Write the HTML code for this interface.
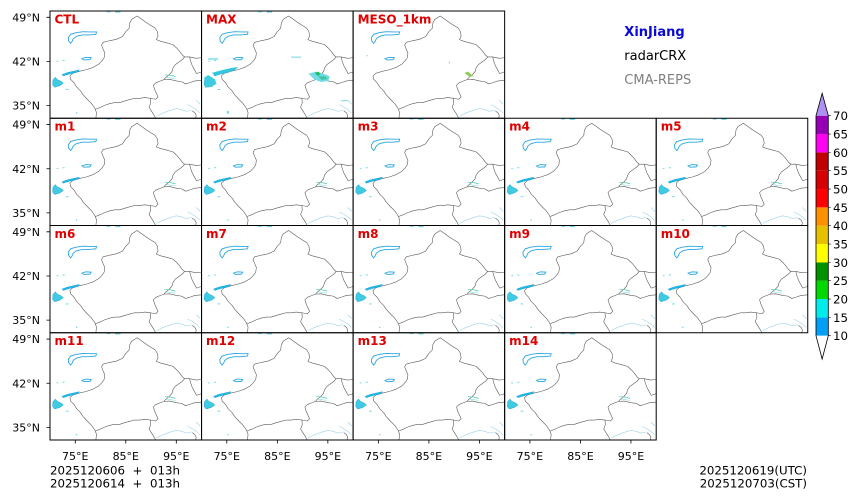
<!DOCTYPE html>
<html><head><meta charset="utf-8"><style>
html,body{margin:0;padding:0;background:#fff;}
svg{display:block;font-family:"DejaVu Sans","Liberation Sans",sans-serif;}
</style></head><body>
<svg width="860" height="501" viewBox="0 0 860 501" xmlns="http://www.w3.org/2000/svg">
<defs>
<symbol id="base" viewBox="0 0 456 322" preserveAspectRatio="none">
 <g fill="none" stroke="#5a5a5a" stroke-width="0.6" stroke-linejoin="round">
  <path vector-effect="non-scaling-stroke" d="M138,322 L140,305 L135,292 L125,278 L112,265 L100,252 L92,240 L80,228 L72,215 L62,205 L60,195 L68,187 L88,181 L110,176 L130,169 L146,160 L156,150 L163,140 L165,126 L160,115 L155,102 L160,94 L180,89 L200,85 L218,77 L228,62 L238,52 L240,36 L246,25 L262,15 L275,24 L290,35 L303,43 L316,51 L323,62 L325,75 L320,86 L333,91 L352,96 L370,101 L381,111 L390,121 L398,132 L405,138 L420,138 L440,142 L456,140"/>
  <path vector-effect="non-scaling-stroke" d="M405,138 L398,146 L388,153 L377,161 L370,171 L367,182 L358,192 L348,200 L343,206 L330,211 L318,216 L311,223 L315,236 L320,247 L325,258 L318,265 L302,262 L285,260 L270,262 L254,262 L240,266 L225,270 L210,275 L195,275 L180,278 L165,283 L150,290 L137,295"/>
  <path vector-effect="non-scaling-stroke" d="M420,138 L423,150 L428,164 L435,177 L441,188 L449,185 L456,183"/>
  <path vector-effect="non-scaling-stroke" d="M343,206 L360,205 L380,210 L396,212 L408,219 L421,215 L436,210 L456,208"/>
  <path vector-effect="non-scaling-stroke" d="M302,262 L303,276 L298,289 L305,300 L312,311 L318,322"/>
  <path vector-effect="non-scaling-stroke" d="M428,300 L436,306 L440,314 L438,322"/>
 </g>
 <g fill="none" stroke="#9fd3ea" stroke-width="0.6">
  <path vector-effect="non-scaling-stroke" d="M320,316 L340,306 L360,299 L380,293 L396,296 L410,301 L426,298"/>
  <path vector-effect="non-scaling-stroke" d="M414,281 L426,287 L440,296 L451,306"/>
  <path vector-effect="non-scaling-stroke" d="M440,268 L452,280"/>
 </g>
 <g fill="none" stroke="#2aa6e2" stroke-width="0.9">
  <path vector-effect="non-scaling-stroke" d="M55,80 L62,70 L78,65 L100,62 L120,63 L140,63 L138,70 L118,72 L97,72 L80,76 L70,83 L66,92 L62,97 L56,90 Z"/>
  <path vector-effect="non-scaling-stroke" d="M96,143 L108,139 L124,140 L120,146 L102,147 Z"/>
 </g>
</symbol>
<symbol id="echo" viewBox="0 0 456 322" preserveAspectRatio="none">
 <path d="M36,191 L52,185 L70,181 L88,177 L84,183 L66,187 L48,192 L40,195 Z" fill="#18c0dc" stroke="#1e9be8" stroke-width="0.5" vector-effect="non-scaling-stroke"/>
 <path d="M9,207 L16,199 L22,206 L35,212 L40,217 L30,224 L14,229 L8,222 Z" fill="#40cce0" stroke="#1e9be8" stroke-width="0.5" vector-effect="non-scaling-stroke"/>
 <g fill="#6fd8e8">
  <rect x="20" y="149" width="5" height="3"/><rect x="38" y="147" width="6" height="3"/>
  <rect x="48" y="234" width="8" height="3"/><rect x="78" y="304" width="4" height="4"/>
  <rect x="170" y="0" width="12" height="4"/><rect x="196" y="0" width="16" height="5"/>
 </g>
 <path d="M345,192 L362,193 L378,197" fill="none" stroke="#50c8b0" stroke-width="0.7" vector-effect="non-scaling-stroke"/>
 <path d="M350,199 L378,203" fill="none" stroke="#7fdce8" stroke-width="0.6" vector-effect="non-scaling-stroke"/>
</symbol>
<symbol id="maxx" viewBox="0 0 456 322" preserveAspectRatio="none">
 <path d="M30,186 L60,178 L95,170 L110,168 L100,178 L70,186 L45,192 Z" fill="#30c8dc"/>
 <path d="M8,200 L20,192 L40,205 L45,218 L30,228 L10,230 Z" fill="#40cce0"/>
 <path d="M322,188 L345,182 L366,188 L386,196 L381,210 L360,213 L340,206 Z" fill="#6fdce8"/>
 <path d="M340,186 L352,182 L358,190 L350,195 Z" fill="#20c060"/>
 <path d="M350,196 L372,196 L380,204 L362,207 Z" fill="#40c8a0"/>
 <g fill="#6fd8e8">
  <rect x="270" y="137" width="30" height="3"/><rect x="20" y="142" width="30" height="4"/>
  <rect x="76" y="300" width="6" height="8"/><rect x="420" y="268" width="20" height="3"/>
 </g>
</symbol>
<symbol id="meso" viewBox="0 0 456 322" preserveAspectRatio="none">
 <path d="M335,186 L345,182 L355,190 L362,196 L350,197 Z" fill="#8ccc50"/>
 <rect x="288" y="152" width="3" height="6" fill="#6fd8e8"/>
 <rect x="40" y="132" width="4" height="4" fill="#9fe0ee"/>
</symbol>
</defs>

<g>
 <use href="#base" x="50" y="11" width="151.55" height="107.25"/><use href="#echo" x="50" y="11" width="151.55" height="107.25"/>
 <use href="#base" x="201.55" y="11" width="151.55" height="107.25"/><use href="#echo" x="201.55" y="11" width="151.55" height="107.25"/><use href="#maxx" x="201.55" y="11" width="151.55" height="107.25"/>
 <use href="#base" x="353.1" y="11" width="151.55" height="107.25"/><use href="#meso" x="353.1" y="11" width="151.55" height="107.25"/>

 <use href="#base" x="50" y="118.25" width="151.55" height="107.25"/><use href="#echo" x="50" y="118.25" width="151.55" height="107.25"/>
 <use href="#base" x="201.55" y="118.25" width="151.55" height="107.25"/><use href="#echo" x="201.55" y="118.25" width="151.55" height="107.25"/>
 <use href="#base" x="353.1" y="118.25" width="151.55" height="107.25"/><use href="#echo" x="353.1" y="118.25" width="151.55" height="107.25"/>
 <use href="#base" x="504.65" y="118.25" width="151.55" height="107.25"/><use href="#echo" x="504.65" y="118.25" width="151.55" height="107.25"/>
 <use href="#base" x="656.2" y="118.25" width="151.55" height="107.25"/><use href="#echo" x="656.2" y="118.25" width="151.55" height="107.25"/>

 <use href="#base" x="50" y="225.5" width="151.55" height="107.25"/><use href="#echo" x="50" y="225.5" width="151.55" height="107.25"/>
 <use href="#base" x="201.55" y="225.5" width="151.55" height="107.25"/><use href="#echo" x="201.55" y="225.5" width="151.55" height="107.25"/>
 <use href="#base" x="353.1" y="225.5" width="151.55" height="107.25"/><use href="#echo" x="353.1" y="225.5" width="151.55" height="107.25"/>
 <use href="#base" x="504.65" y="225.5" width="151.55" height="107.25"/><use href="#echo" x="504.65" y="225.5" width="151.55" height="107.25"/>
 <use href="#base" x="656.2" y="225.5" width="151.55" height="107.25"/><use href="#echo" x="656.2" y="225.5" width="151.55" height="107.25"/>

 <use href="#base" x="50" y="332.75" width="151.55" height="107.25"/><use href="#echo" x="50" y="332.75" width="151.55" height="107.25"/>
 <use href="#base" x="201.55" y="332.75" width="151.55" height="107.25"/><use href="#echo" x="201.55" y="332.75" width="151.55" height="107.25"/>
 <use href="#base" x="353.1" y="332.75" width="151.55" height="107.25"/><use href="#echo" x="353.1" y="332.75" width="151.55" height="107.25"/>
 <use href="#base" x="504.65" y="332.75" width="151.55" height="107.25"/><use href="#echo" x="504.65" y="332.75" width="151.55" height="107.25"/>
</g>

<g fill="none" stroke="#000" stroke-width="1">
 <rect x="50" y="11" width="151.55" height="107.25"/><rect x="201.55" y="11" width="151.55" height="107.25"/><rect x="353.1" y="11" width="151.55" height="107.25"/>
 <rect x="50" y="118.25" width="151.55" height="107.25"/><rect x="201.55" y="118.25" width="151.55" height="107.25"/><rect x="353.1" y="118.25" width="151.55" height="107.25"/><rect x="504.65" y="118.25" width="151.55" height="107.25"/><rect x="656.2" y="118.25" width="151.55" height="107.25"/>
 <rect x="50" y="225.5" width="151.55" height="107.25"/><rect x="201.55" y="225.5" width="151.55" height="107.25"/><rect x="353.1" y="225.5" width="151.55" height="107.25"/><rect x="504.65" y="225.5" width="151.55" height="107.25"/><rect x="656.2" y="225.5" width="151.55" height="107.25"/>
 <rect x="50" y="332.75" width="151.55" height="107.25"/><rect x="201.55" y="332.75" width="151.55" height="107.25"/><rect x="353.1" y="332.75" width="151.55" height="107.25"/><rect x="504.65" y="332.75" width="151.55" height="107.25"/>
</g>

<g fill="#e00000" font-weight="bold" font-size="12">
 <text x="54.5" y="23.3">CTL</text><text x="206" y="23.3">MAX</text><text x="357.6" y="23.3">MESO_1km</text>
 <text x="54.5" y="130.6">m1</text><text x="206" y="130.6">m2</text><text x="357.6" y="130.6">m3</text><text x="509.1" y="130.6">m4</text><text x="660.7" y="130.6">m5</text>
 <text x="54.5" y="237.8">m6</text><text x="206" y="237.8">m7</text><text x="357.6" y="237.8">m8</text><text x="509.1" y="237.8">m9</text><text x="660.7" y="237.8">m10</text>
 <text x="54.5" y="345.1">m11</text><text x="206" y="345.1">m12</text><text x="357.6" y="345.1">m13</text><text x="509.1" y="345.1">m14</text>
</g>

<g stroke="#000" stroke-width="0.8">
 <path d="M46.5,17.3H50M46.5,61.5H50M46.5,105.6H50 M46.5,124.55H50M46.5,168.75H50M46.5,212.85H50 M46.5,231.8H50M46.5,276H50M46.5,320.1H50 M46.5,339.05H50M46.5,383.25H50M46.5,427.35H50"/>
 <path d="M75.26,440V443.5M125.8,440V443.5M176.3,440V443.5 M226.8,440V443.5M277.35,440V443.5M327.85,440V443.5 M378.35,440V443.5M428.9,440V443.5M479.4,440V443.5 M529.9,440V443.5M580.45,440V443.5M630.95,440V443.5"/>
</g>
<g font-size="11" fill="#000" text-anchor="end">
 <text x="40" y="21.3">49°N</text><text x="40" y="65.5">42°N</text><text x="40" y="109.6">35°N</text>
 <text x="40" y="128.55">49°N</text><text x="40" y="172.75">42°N</text><text x="40" y="216.85">35°N</text>
 <text x="40" y="235.8">49°N</text><text x="40" y="280">42°N</text><text x="40" y="324.1">35°N</text>
 <text x="40" y="343.05">49°N</text><text x="40" y="387.25">42°N</text><text x="40" y="431.35">35°N</text>
</g>
<g font-size="11" fill="#000" text-anchor="middle">
 <text x="75.26" y="460">75°E</text><text x="125.8" y="460">85°E</text><text x="176.3" y="460">95°E</text>
 <text x="226.8" y="460">75°E</text><text x="277.35" y="460">85°E</text><text x="327.85" y="460">95°E</text>
 <text x="378.35" y="460">75°E</text><text x="428.9" y="460">85°E</text><text x="479.4" y="460">95°E</text>
 <text x="529.9" y="460">75°E</text><text x="580.45" y="460">85°E</text><text x="630.95" y="460">95°E</text>
</g>

<g font-size="11.8" fill="#000">
 <text x="50" y="474.3" style="white-space:pre">2025120606  +  013h</text>
 <text x="50" y="487.7" style="white-space:pre">2025120614  +  013h</text>
 <text x="807" y="474.3" text-anchor="end">2025120619(UTC)</text>
 <text x="807" y="487.7" text-anchor="end">2025120703(CST)</text>
</g>

<text x="624.3" y="36" font-size="13" font-weight="bold" fill="#0a0ad8">XinJiang</text>
<text x="624.3" y="60" font-size="13" fill="#000">radarCRX</text>
<text x="624.3" y="84" font-size="13" fill="#808080">CMA-REPS</text>

<g stroke="none">
 <rect x="816" y="317.37" width="12.3" height="18.34" fill="#01A0F6"/>
 <rect x="816" y="299.03" width="12.3" height="18.34" fill="#00ECEC"/>
 <rect x="816" y="280.7" width="12.3" height="18.34" fill="#00D800"/>
 <rect x="816" y="262.37" width="12.3" height="18.34" fill="#019000"/>
 <rect x="816" y="244.03" width="12.3" height="18.34" fill="#FFFF00"/>
 <rect x="816" y="225.7" width="12.3" height="18.34" fill="#E7C000"/>
 <rect x="816" y="207.37" width="12.3" height="18.34" fill="#FF9000"/>
 <rect x="816" y="189.03" width="12.3" height="18.34" fill="#FF0000"/>
 <rect x="816" y="170.7" width="12.3" height="18.34" fill="#D60000"/>
 <rect x="816" y="152.37" width="12.3" height="18.34" fill="#C00000"/>
 <rect x="816" y="134.03" width="12.3" height="18.34" fill="#FF00F0"/>
 <rect x="816" y="115.7" width="12.3" height="18.34" fill="#9600B4"/>
 <path d="M816,115.7 L822.15,93.3 L828.3,115.7 Z" fill="#AD90F0"/>
 <path d="M816,335.7 L822.15,359 L828.3,335.7 Z" fill="#fff"/>
</g>
<path d="M816,115.7 L822.15,93.3 L828.3,115.7 L828.3,335.7 L822.15,359 L816,335.7 Z" fill="none" stroke="#000" stroke-width="0.8"/>
<g stroke="#000" stroke-width="0.6">
 <path d="M828.3,115.7h2.5M828.3,134.03h2.5M828.3,152.37h2.5M828.3,170.7h2.5M828.3,189.03h2.5M828.3,207.37h2.5M828.3,225.7h2.5M828.3,244.03h2.5M828.3,262.37h2.5M828.3,280.7h2.5M828.3,299.03h2.5M828.3,317.37h2.5M828.3,335.7h2.5"/>
</g>
<g font-size="11.8" fill="#000">
 <text x="833" y="120.1">70</text><text x="833" y="138.43">65</text><text x="833" y="156.77">60</text><text x="833" y="175.1">55</text>
 <text x="833" y="193.43">50</text><text x="833" y="211.77">45</text><text x="833" y="230.1">40</text><text x="833" y="248.43">35</text>
 <text x="833" y="266.77">30</text><text x="833" y="285.1">25</text><text x="833" y="303.43">20</text><text x="833" y="321.77">15</text>
 <text x="833" y="340.1">10</text>
</g>
</svg>
</body></html>
